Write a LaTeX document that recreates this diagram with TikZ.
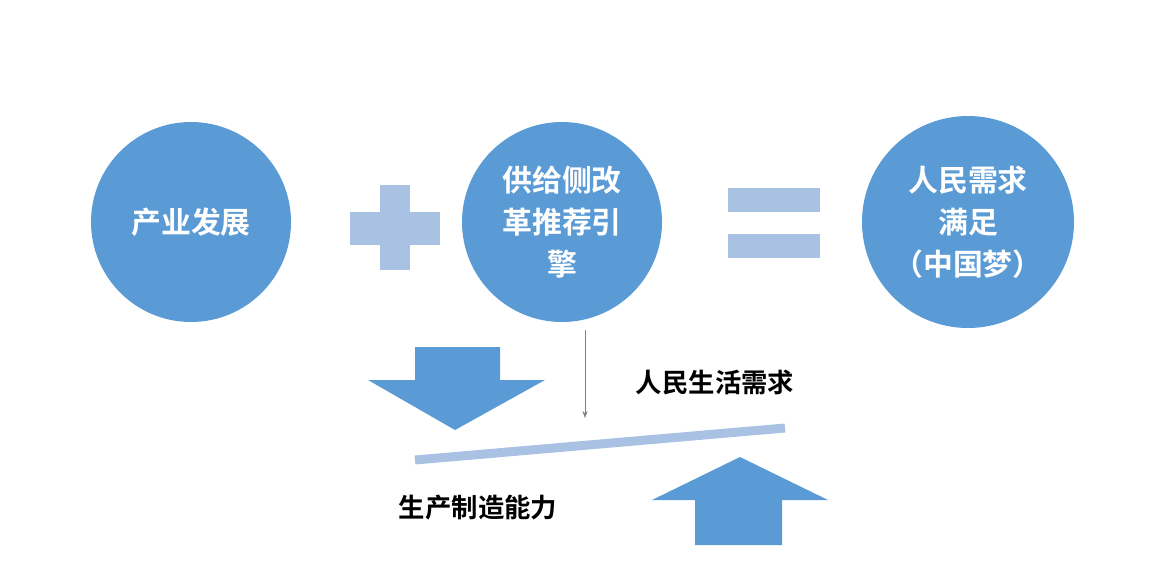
\documentclass[tikz,border=0pt]{standalone}
\usepackage{fontspec}
\setmainfont{Noto Sans CJK SC}[BoldFont={Noto Sans CJK SC Bold}]
\usetikzlibrary{positioning,arrows.meta}
\definecolor{ballblue}{HTML}{5B9BD5}
\definecolor{barblue}{HTML}{A9C1E3}
\begin{document}
\begin{tikzpicture}[x=0.02cm,y=-0.02cm,
  ball/.style={circle, fill=ballblue, minimum size=200*0.02cm, text=white, font=\bfseries\fontsize{17}{24}\selectfont, align=center},
  arrowblock/.style={fill=ballblue},
  lbl/.style={font=\bfseries\fontsize{15}{18}\selectfont}]
\useasboundingbox (0,0) rectangle (1156,576);
\node[ball] (a) at (191,222) {产业发展};
\node[ball] (b) at (562,222) {供给侧改\\革推荐引\\擎};
\node[ball, minimum size=212*0.02cm] (c) at (968,222) {人民需求\\满足\\（中国梦）};
% plus and equals
\fill[barblue] (380,185) rectangle (410,270);
\fill[barblue] (350,212) rectangle (440,245);
\fill[barblue] (728,188) rectangle (820,212);
\fill[barblue] (728,234) rectangle (820,258);
% arrows
\fill[arrowblock] (415,347) -- (500,347) -- (500,380) -- (545,380) -- (455,430) -- (368,380) -- (415,380) -- cycle;
\fill[arrowblock] (695,545) -- (782,545) -- (782,500) -- (828,500) -- (740,457) -- (652,500) -- (695,500) -- cycle;
\coordinate (p) at (585,418);
\draw[gray, -{Stealth[length=4pt]}] (b.south -| p) ++(0,8) -- (p);
\draw[barblue, line width=9*0.02cm] (415,460) -- (785,428);
\node[lbl] (up) at (715,383) {人民生活需求};
\node[lbl] (down) at (478,508) {生产制造能力};
\end{tikzpicture}
\end{document}
